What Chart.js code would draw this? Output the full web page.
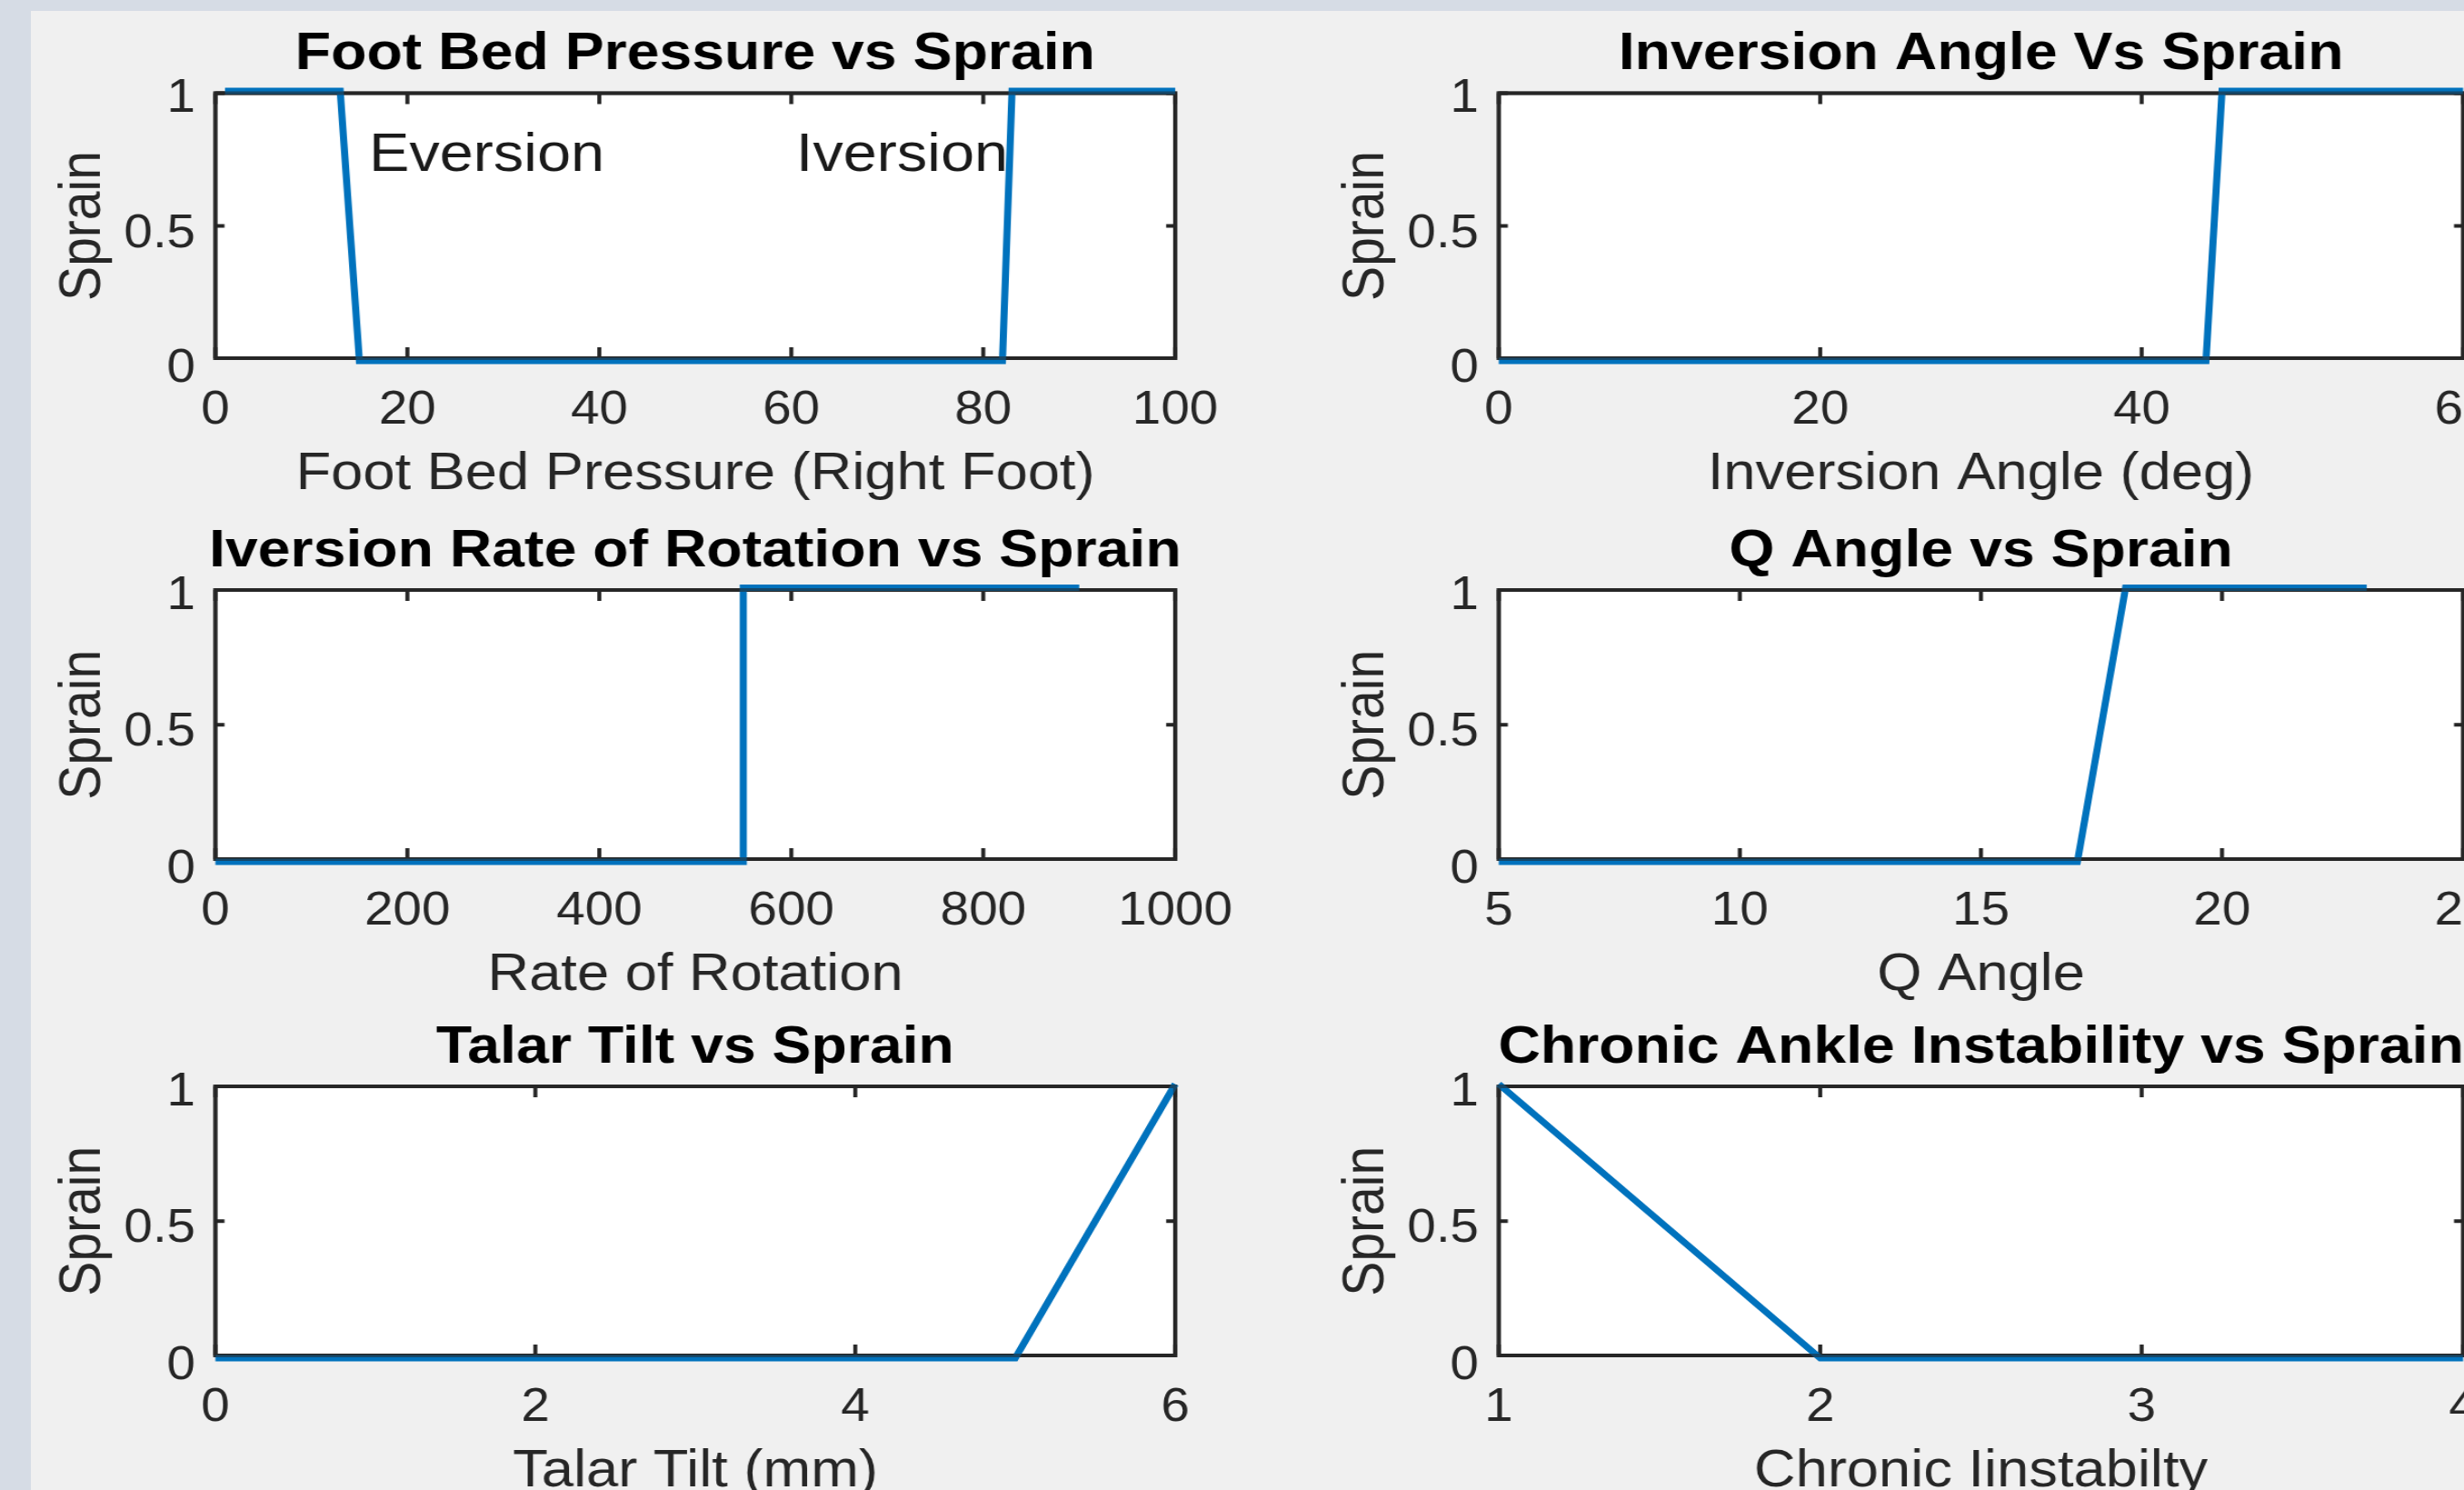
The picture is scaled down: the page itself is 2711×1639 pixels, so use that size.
<!DOCTYPE html>
<html>
<head>
<meta charset="utf-8">
<script src="https://cdn.jsdelivr.net/npm/chart.js@4.4.1/dist/chart.umd.min.js"></script>
<style>
  html, body { margin: 0; padding: 0; width: 2711px; height: 1639px; overflow: hidden; background: #d6dce5; }
  #fig { position: absolute; left: 34px; top: 12px; width: 2677px; height: 1627px; background: #f0f0f0; }
  canvas { position: absolute; transform-origin: 0 0; }
</style>
</head>
<body>
<div id="fig"></div>
<canvas id="foot"></canvas>
<canvas id="rate"></canvas>
<canvas id="talar"></canvas>
<canvas id="inversion"></canvas>
<canvas id="qangle"></canvas>
<canvas id="chronic"></canvas>
<script>
// line data
const footX = [1, 13, 15, 82, 83, 100];
const footY = [1, 1, 0, 0, 1, 1];
const inversionX = [0, 44, 45, 60];
const inversionY = [0, 0, 1, 1];
const rateX = [0, 550, 550, 900];
const rateY = [0, 0, 1, 1];
const qAngleX = [5, 17, 18, 23];
const qAngleY = [0, 0, 1, 1];
const talarX = [0, 5, 6];
const talarY = [0, 0, 1];
const chronicX = [1, 2, 4];
const chronicY = [1, 0, 0];

// tick labels
const sprainTicks = [0, 0.5, 1];
const footTicks = [0, 20, 40, 60, 80, 100];
const inversionTicks = [0, 20, 40, 60];
const rateTicks = [0, 200, 400, 600, 800, 1000];
const qAngleTicks = [5, 10, 15, 20, 25];
const talarTicks = [0, 2, 4, 6];
const chronicTicks = [1, 2, 3, 4];

const yLabel = 'Sprain';

// text notes in the first plot
const noteText = ['Eversion', 'Iversion'];
const noteX = [16, 60.5];
const noteY = [0.76, 0.76];

Chart.defaults.font.family = '"Liberation Sans", Arial, Helvetica, sans-serif';

// the source figure is a bit wider than tall, so every canvas gets stretched the same way
const SX = 1.11;
const TITLE_SIZE = 58;
const LABEL_SIZE = 57;
const TICK_SIZE = 51;
const BOX_IN_TOP = 2.5;   // black frame sits a little inside the data range
const BOX_IN_BOTTOM = 3;

const cols = [
  { left: 0, plotLeft: 237, plotRight: 1293 },
  { left: 1412, plotLeft: 1649, plotRight: 2710 }
];
const rows = [
  { top: 19, plotTop: 100, plotBottom: 397, bottom: 559 },
  { top: 566, plotTop: 646.5, plotBottom: 948, bottom: 1110 },
  { top: 1112, plotTop: 1192.5, plotBottom: 1494, bottom: 1656 }
];

// white axes area, box and inward ticks like matlab
const boxPlugin = {
  id: 'matlabBox',
  beforeDatasetsDraw(chart) {
    const { ctx, chartArea: a, scales: { x, y } } = chart;
    const top = a.top + BOX_IN_TOP;
    const bottom = a.bottom - BOX_IN_BOTTOM;
    ctx.save();
    ctx.fillStyle = '#ffffff';
    ctx.fillRect(a.left, top, a.width, bottom - top);
    ctx.strokeStyle = '#262626';
    ctx.lineWidth = 4;
    ctx.beginPath();
    x.ticks.forEach(t => {
      const p = x.getPixelForValue(t.value);
      ctx.moveTo(p, bottom); ctx.lineTo(p, bottom - 12);
      ctx.moveTo(p, top); ctx.lineTo(p, top + 12);
    });
    y.ticks.forEach(t => {
      const p = Math.min(Math.max(y.getPixelForValue(t.value), top), bottom);
      ctx.moveTo(a.left, p); ctx.lineTo(a.left + 9, p);
      ctx.moveTo(a.right, p); ctx.lineTo(a.right - 9, p);
    });
    ctx.stroke();
    ctx.strokeRect(a.left, top, a.width, bottom - top);
    ctx.restore();
  },
  afterDatasetsDraw(chart) {
    const { ctx, chartArea: a } = chart;
    const top = a.top + BOX_IN_TOP;
    const bottom = a.bottom - BOX_IN_BOTTOM;
    ctx.save();
    ctx.strokeStyle = 'rgba(38,38,38,0.55)';
    ctx.lineWidth = 4;
    ctx.strokeRect(a.left, top, a.width, bottom - top);
    ctx.restore();
  }
};

const notePlugin = {
  id: 'notes',
  afterDatasetsDraw(chart) {
    const { ctx, scales: { x, y } } = chart;
    ctx.save();
    ctx.font = '60px "Liberation Sans", Arial, sans-serif';
    ctx.fillStyle = '#1a1a1a';
    ctx.textAlign = 'left';
    ctx.textBaseline = 'middle';
    noteText.forEach((t, i) => ctx.fillText(t, x.getPixelForValue(noteX[i]), y.getPixelForValue(noteY[i])));
    ctx.restore();
  }
};

function makeChart(id, col, row, xs, ys, xTicks, title, xLabel, extra) {
  const canvas = document.getElementById(id);
  const yW = (col.plotLeft - col.left) / SX;
  const pw = (col.plotRight - col.plotLeft) / SX;
  const w = Math.round(2 * yW + pw);
  const rightW = w - yW - pw;
  const h = row.bottom - row.top;
  const xAxisH = row.bottom - row.plotBottom;
  canvas.width = w;
  canvas.height = h;
  canvas.style.left = col.left + 'px';
  canvas.style.top = row.top + 'px';
  canvas.style.width = w + 'px';
  canvas.style.height = h + 'px';
  canvas.style.transform = 'scaleX(' + SX + ')';

  const titleTop = 5.7;

  return new Chart(canvas, {
    type: 'line',
    data: {
      datasets: [{
        data: xs.map((v, i) => ({ x: v, y: ys[i] })),
        borderColor: '#0072bd',
        borderWidth: 7,
        pointRadius: 0,
        tension: 0,
        fill: false,
        clip: false
      }]
    },
    options: {
      responsive: false,
      animation: false,
      devicePixelRatio: 1,
      plugins: {
        legend: { display: false },
        tooltip: { enabled: false },
        title: {
          display: true,
          text: title,
          color: '#000000',
          font: { size: TITLE_SIZE, weight: 'bold' },
          padding: { top: titleTop, bottom: row.plotTop - row.top - titleTop - TITLE_SIZE * 1.2 }
        }
      },
      scales: {
        x: {
          type: 'linear',
          min: xTicks[0],
          max: xTicks[xTicks.length - 1],
          grid: { display: false, drawTicks: false },
          border: { display: false },
          afterBuildTicks: s => { s.ticks = xTicks.map(v => ({ value: v })); },
          afterFit: s => { s.height = xAxisH; s.paddingLeft = 0; s.paddingRight = 0; },
          ticks: {
            autoSkip: false, maxRotation: 0, padding: 24.4,
            color: '#262626', font: { size: TICK_SIZE },
            callback: v => String(v)
          },
          title: {
            display: true, text: xLabel, color: '#262626',
            font: { size: LABEL_SIZE },
            padding: { top: 0, bottom: 2.3 }
          }
        },
        y: {
          type: 'linear',
          position: 'left',
          min: 0,
          max: 1,
          grid: { display: false, drawTicks: false },
          border: { display: false },
          afterBuildTicks: s => { s.ticks = sprainTicks.map(v => ({ value: v })); },
          afterFit: s => { s.width = yW; s.paddingTop = 0; s.paddingBottom = 0; },
          ticks: {
            padding: 19.8, labelOffset: 9,
            color: '#262626', font: { size: TICK_SIZE },
            callback: v => String(v)
          },
          title: {
            display: true, text: yLabel, color: '#262626',
            font: { size: LABEL_SIZE },
            padding: { top: 48.7, bottom: 0 }
          }
        },
        // empty right axis, keeps the plot centred under its title
        y2: {
          type: 'linear',
          position: 'right',
          display: true,
          min: 0,
          max: 1,
          grid: { display: false, drawTicks: false },
          border: { display: false },
          ticks: { display: false },
          afterFit: s => { s.width = rightW; s.paddingTop = 0; s.paddingBottom = 0; }
        }
      }
    },
    plugins: extra ? [boxPlugin, extra] : [boxPlugin]
  });
}

makeChart('foot', cols[0], rows[0], footX, footY, footTicks,
  'Foot Bed Pressure vs Sprain', 'Foot Bed Pressure (Right Foot)', notePlugin);
makeChart('rate', cols[0], rows[1], rateX, rateY, rateTicks,
  'Iversion Rate of Rotation vs Sprain', 'Rate of Rotation');
makeChart('talar', cols[0], rows[2], talarX, talarY, talarTicks,
  'Talar Tilt vs Sprain', 'Talar Tilt (mm)');
makeChart('inversion', cols[1], rows[0], inversionX, inversionY, inversionTicks,
  'Inversion Angle Vs Sprain', 'Inversion Angle (deg)');
makeChart('qangle', cols[1], rows[1], qAngleX, qAngleY, qAngleTicks,
  'Q Angle vs Sprain', 'Q Angle');
makeChart('chronic', cols[1], rows[2], chronicX, chronicY, chronicTicks,
  'Chronic Ankle Instability vs Sprain', 'Chronic Iinstabilty');
</script>
</body>
</html>
